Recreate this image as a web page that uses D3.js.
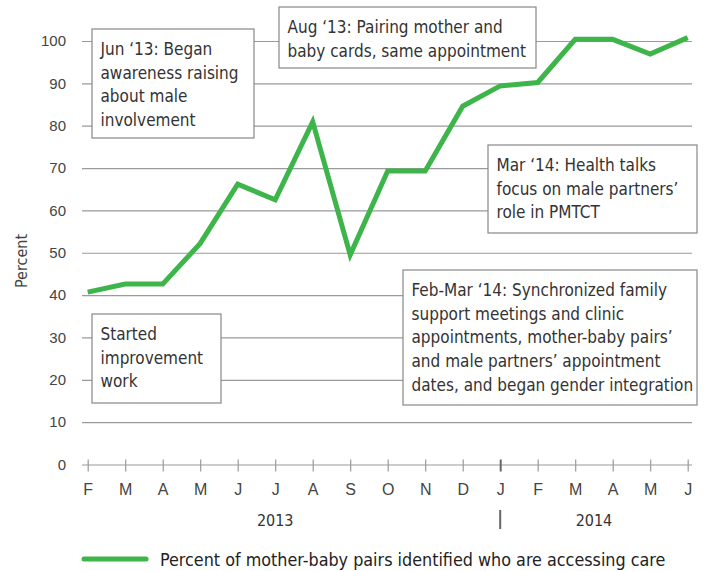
<!DOCTYPE html>
<html>
<head>
<meta charset="utf-8">
<script src="https://cdn.jsdelivr.net/npm/d3@7"></script>
<style>
  body { margin: 0; background: #fff; }
  svg { display: block; font-family: "Liberation Sans Narrow", "DejaVu Sans Condensed", "Roboto", sans-serif; }
</style>
</head>
<body>
<svg id="chart"></svg>
<script>
const months = ["F", "M", "A", "M", "J", "J", "A", "S", "O", "N", "D", "J", "F", "M", "A", "M", "J"];
const values = [40.7, 42.6, 42.6, 52.2, 66.2, 62.5, 80.9, 49.5, 69.3, 69.3, 84.6, 89.4, 90.2, 100.4, 100.4, 96.9, 100.8];
const yTicks = [0, 10, 20, 30, 40, 50, 60, 70, 80, 90, 100];
const years = [{ label: "2013", from: 0, to: 10 }, { label: "2014", from: 11, to: 16 }];
const legendLabel = "Percent of mother-baby pairs identified who are accessing care";

const notes = [
  { lines: ["Jun \u201813: Began", "awareness raising", "about male", "involvement"], box: [92, 29, 162, 109] },
  { lines: ["Aug \u201813: Pairing mother and", "baby cards, same appointment"], box: [279, 7, 257, 61] },
  { lines: ["Mar \u201814: Health talks", "focus on male partners\u2019", "role in PMTCT"], box: [488, 145, 209, 88] },
  { lines: ["Feb-Mar \u201814: Synchronized family", "support meetings and clinic", "appointments, mother-baby pairs\u2019", "and male partners\u2019 appointment", "dates, and began gender integration"], box: [403, 270, 294, 135] },
  { lines: ["Started", "improvement", "work"], box: [92, 314, 129, 89] }
];

const width = 704, height = 571;
const green = "#3db54a";
const grid = "#9a9a9a";

const svg = d3.select("#chart")
  .attr("width", width)
  .attr("height", height)
  .attr("viewBox", [0, 0, width, height]);

const x = d3.scalePoint()
  .domain(d3.range(months.length))
  .range([87.7, 687.7]);

const y = d3.scaleLinear()
  .domain([0, 100])
  .range([464.5, 41]);

// gridlines + y labels
svg.append("g")
  .attr("transform", "translate(82,0)")
  .call(d3.axisLeft(y).tickValues(yTicks).tickSize(0).tickPadding(16))
  .call(g => {
    g.select(".domain").remove();
    g.selectAll(".tick text")
      .attr("font-size", 15)
      .attr("fill", "#444")
      .attr("font-family", "inherit");
    g.selectAll(".tick line")
      .attr("x2", 610)
      .attr("stroke", grid)
      .attr("stroke-width", 1.2);
  });

svg.append("text")
  .attr("transform", "translate(21,261) rotate(-90)")
  .attr("text-anchor", "middle")
  .attr("dominant-baseline", "central")
  .attr("font-size", 16)
  .attr("fill", "#444")
  .text("Percent");

// x axis ticks
svg.append("g")
  .attr("transform", `translate(0,${y(0)})`)
  .call(d3.axisBottom(x).tickSize(0).tickPadding(19).tickFormat(i => months[i]))
  .call(g => {
    g.select(".domain").remove();
    g.selectAll(".tick text")
      .attr("font-size", 16)
      .attr("fill", "#444")
      .attr("font-family", "inherit");
    g.selectAll(".tick line")
      .attr("y1", -5)
      .attr("y2", 7)
      .attr("stroke", d => d === 11 ? "#666" : grid)
      .attr("stroke-width", d => d === 11 ? 2 : 1.2);
  });

// year labels
svg.selectAll(".year")
  .data(years)
  .join("text")
  .attr("class", "year")
  .attr("x", d => (x(d.from) + x(d.to)) / 2)
  .attr("y", 520)
  .attr("text-anchor", "middle")
  .attr("dominant-baseline", "central")
  .attr("font-size", 16)
  .attr("fill", "#333")
  .text(d => d.label);

svg.append("line")
  .attr("x1", x(11)).attr("x2", x(11))
  .attr("y1", 510).attr("y2", 529)
  .attr("stroke", "#666")
  .attr("stroke-width", 2);

// data line
svg.append("path")
  .datum(values)
  .attr("fill", "none")
  .attr("stroke", green)
  .attr("stroke-width", 5)
  .attr("stroke-linejoin", "miter")
  .attr("d", d3.line().x((d, i) => x(i)).y(d => y(d)));

// annotation boxes
const ann = svg.selectAll(".note")
  .data(notes)
  .join("g")
  .attr("class", "note")
  .attr("transform", d => `translate(${d.box[0]},${d.box[1]})`);

ann.append("rect")
  .attr("width", d => d.box[2])
  .attr("height", d => d.box[3])
  .attr("fill", "#fff")
  .attr("stroke", "#888")
  .attr("stroke-width", 1.2);

ann.append("text")
  .attr("font-size", 17)
  .attr("fill", "#333")
  .selectAll("tspan")
  .data(d => d.lines)
  .join("tspan")
  .attr("x", 8.5)
  .attr("y", (d, i) => 26 + i * 23.7)
  .text(d => d);

// legend
svg.append("line")
  .attr("x1", 84).attr("x2", 146)
  .attr("y1", 559).attr("y2", 559)
  .attr("stroke", green)
  .attr("stroke-width", 5)
  .attr("stroke-linecap", "round");

svg.append("text")
  .attr("x", 160)
  .attr("y", 559)
  .attr("dominant-baseline", "central")
  .attr("font-size", 17.8)
  .attr("fill", "#222")
  .text(legendLabel);
</script>
</body>
</html>
